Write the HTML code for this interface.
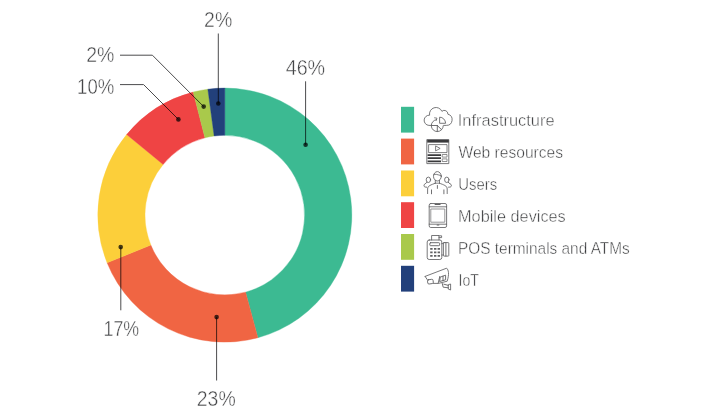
<!DOCTYPE html>
<html><head><meta charset="utf-8"><title>Chart</title>
<style>
html,body{margin:0;padding:0;background:#fff;}
svg{display:block}
text{font-family:"Liberation Sans",sans-serif;stroke:#fff;stroke-width:0.45px;}
.pct{font-size:22.2px;fill:#444547;}
.lg{font-size:16.3px;fill:#38393b;}
.ld{fill:none;stroke:#4c4c4e;stroke-width:1;mix-blend-mode:multiply}
.dot{fill:#454547;mix-blend-mode:multiply}
.ic{fill:none;stroke:#606062;stroke-width:0.85;stroke-linecap:round;stroke-linejoin:round}
</style></head><body>
<svg width="712" height="414" viewBox="0 0 712 414">
<rect width="712" height="414" fill="#fff"/>
<path d="M224.80 88.10A127.0 127.0 0 0 1 257.88 337.72L245.59 292.15A79.8 79.8 0 0 0 224.80 135.30Z" fill="#3cba92" stroke="#3cba92" stroke-width="0.4"/>
<path d="M257.88 337.72A127.0 127.0 0 0 1 107.09 262.78L150.84 245.06A79.8 79.8 0 0 0 245.59 292.15Z" fill="#f06543" stroke="#f06543" stroke-width="0.4"/>
<path d="M107.09 262.78A127.0 127.0 0 0 1 126.66 134.49L163.13 164.45A79.8 79.8 0 0 0 150.84 245.06Z" fill="#fccf3a" stroke="#fccf3a" stroke-width="0.4"/>
<path d="M126.66 134.49A127.0 127.0 0 0 1 193.22 92.09L204.95 137.81A79.8 79.8 0 0 0 163.13 164.45Z" fill="#ef4444" stroke="#ef4444" stroke-width="0.4"/>
<path d="M193.22 92.09A127.0 127.0 0 0 1 207.85 89.24L214.15 136.01A79.8 79.8 0 0 0 204.95 137.81Z" fill="#a9c94b" stroke="#a9c94b" stroke-width="0.4"/>
<path d="M207.85 89.24A127.0 127.0 0 0 1 224.80 88.10L224.80 135.30A79.8 79.8 0 0 0 214.15 136.01Z" fill="#22407b" stroke="#22407b" stroke-width="0.4"/>
<g class="ld">
<path d="M218.3 33.5V103.5"/>
<path d="M305.6 81.3V144.8"/>
<path d="M120 55.2H152.4L203.7 106.6"/>
<path d="M120 84.6H143.6L178.4 119.4"/>
<path d="M120.8 247.1V310.3"/>
<path d="M216.6 317.1V380.5"/>
</g>
<g class="dot">
<circle cx="218.3" cy="103.5" r="2.3"/>
<circle cx="305.6" cy="144.8" r="2.3"/>
<circle cx="203.7" cy="106.6" r="2.3"/>
<circle cx="178.4" cy="119.4" r="2.3"/>
<circle cx="120.7" cy="247.1" r="2.3"/>
<circle cx="216.6" cy="317.1" r="2.3"/>
</g>
<g>
<rect x="401" y="106.8" width="13.1" height="25.8" fill="#3cba92"/>
<rect x="401" y="138.6" width="13.1" height="25.8" fill="#f06543"/>
<rect x="401" y="170.5" width="13.1" height="25.8" fill="#fccf3a"/>
<rect x="401" y="202.2" width="13.1" height="25.8" fill="#ef4444"/>
<rect x="401" y="234.0" width="13.1" height="25.8" fill="#a9c94b"/>
<rect x="401" y="265.8" width="13.1" height="25.8" fill="#22407b"/>
</g>
<g class="ic">
<!-- cloud / infrastructure -->
<path d="M431.8 125.4H428.9A5.11 5.11 0 0 1 429.6 115.2A6.5 6.5 0 0 1 441.9 111.3A3.6 3.6 0 0 1 447.9 114.2A5.7 5.7 0 0 1 446.4 125.4H443.8"/>
<path d="M436.6 119.6A6 6 0 1 0 443.3 125.8"/>
<path d="M434.6 117.8L437 118.2L436.2 120.4" stroke-width="0.8"/>
<path d="M437.3 125.5V131.5M437.3 125.5L441.5 129.6M437.3 125.5H431.6" stroke-width="0.9"/>
<path d="M439.6 122.9V117.2A5.9 5.9 0 0 1 445.6 122.9Z"/>
<!-- web resources -->
<rect x="427.2" y="139.6" width="21.6" height="24"/>
<rect x="427.2" y="139.8" width="21.6" height="2.8" fill="#3a3a3c" stroke="none"/>
<rect x="429" y="144.6" width="18" height="8" stroke-width="0.8"/>
<path d="M435.6 146.3V150.9L439.8 148.6Z" stroke-width="0.8"/>
<path d="M427.6 155.1H441M427.6 158.2H441M427.6 161.3H441" stroke="#3a3a3c" stroke-width="1.8" stroke-linecap="butt"/>
<rect x="442.6" y="154.5" width="4.4" height="2.6" stroke-width="0.7"/>
<rect x="442.6" y="158.9" width="4.4" height="2.6" stroke-width="0.7"/>
<!-- users -->
<ellipse cx="437.4" cy="176.3" rx="3.9" ry="4.7"/>
<path d="M433.7 174.6C435.5 173.6 437.5 174.8 441.2 175.6" stroke-width="0.8"/>
<path d="M435.3 180.2V183.2M439.5 180.2V183.2M435.3 183.2H439.5" stroke-width="0.8"/>
<path d="M427.6 193.6V189C427.6 185.6 431 185 435.3 183.2M447.2 193.6V189C447.2 185.6 443.8 185 439.5 183.2"/>
<path d="M431.5 189.9V193.8M443.9 189.9V193.8M437.4 185.5V188.4" stroke-width="0.9"/>
<ellipse cx="428.4" cy="179.8" rx="2.2" ry="2.7"/>
<ellipse cx="446.8" cy="179.8" rx="2.2" ry="2.7"/>
<path d="M427 182.3C426 184 424 183.6 424 185.6C424 186.8 425 187.2 426.6 187.2M448.2 182.3C449.2 184 451.4 183.6 451.4 185.6C451.4 186.8 450.4 187.2 448.6 187.2" stroke-width="0.9"/>
<!-- mobile -->
<rect x="429.2" y="203.5" width="17.4" height="24" rx="1.6"/>
<path d="M429.2 206.8H446.6M429.2 224.2H446.6"/>
<rect x="431.2" y="209" width="13.6" height="13.2" stroke="#8a8a8c" stroke-width="0.9"/>
<path d="M435.2 204.4H440" stroke-width="1.2"/>
<path d="M437.2 225H438.8" stroke-width="1.2"/>
<!-- POS -->
<rect x="427.2" y="240" width="14.6" height="19.5" rx="2"/>
<path d="M431.6 240V235.5H439V240M439 235.8H441.6V237.6H439"/>
<rect x="429.8" y="242.7" width="9.8" height="3" rx="0.8" stroke-width="0.9"/>
<path d="M430.2 248.8H432.6M434 248.8H436.4M437.6 248.8H440M430.2 252.3H432.6M434 252.3H436.4M437.6 252.3H440M430.2 255.8H432.6M434 255.8H436.4M437.6 255.8H440" stroke-width="1.7" stroke-linecap="butt"/>
<path d="M441.8 243.6H443.4M441.8 255H443.4" stroke-width="0.8"/>
<rect x="443.4" y="242.6" width="5.4" height="13.5" rx="0.6"/>
<path d="M445.9 242.6V256.1" stroke-width="0.9"/>
<!-- camera -->
<path d="M425.1 276.4L446.6 268.2C448.6 269.8 449.4 274 447.2 281.2L438.4 283.4H433.4"/>
<path d="M425.1 276.4L427.4 279.8"/>
<rect x="427.6" y="279.5" width="5.6" height="4.3" rx="1.2" transform="rotate(-8 430.4 281.6)"/>
<path d="M439.8 276.4L438.2 283.2" stroke-width="0.9"/>
<path d="M440.6 277L445.6 275.2V279.8L440 281.4ZM443 276.1V280.5" stroke-width="0.9"/>
<path d="M442.2 283.4L443.2 287.2L448.4 287.8M443.8 284.2L448.4 285.4" stroke-width="0.9"/>
<path d="M448.6 284.6L450.6 284V290L448.6 289.2Z"/>
</g>


<g>
<text class="pct" x="204.10" y="27.05" textLength="28.15" lengthAdjust="spacingAndGlyphs">2%</text>
<text class="pct" x="285.70" y="75.35" textLength="39.47" lengthAdjust="spacingAndGlyphs">46%</text>
<text class="pct" x="86.20" y="62.25" textLength="28.15" lengthAdjust="spacingAndGlyphs">2%</text>
<text class="pct" x="77.10" y="93.75" textLength="37.17" lengthAdjust="spacingAndGlyphs">10%</text>
<text class="pct" x="103.50" y="335.85" textLength="35.57" lengthAdjust="spacingAndGlyphs">17%</text>
<text class="pct" x="196.80" y="406.05" textLength="38.91" lengthAdjust="spacingAndGlyphs">23%</text>
<text class="lg" x="457.80" y="125.90" textLength="96.80" lengthAdjust="spacingAndGlyphs">Infrastructure</text>
<text class="lg" x="458.45" y="157.85" textLength="104.66" lengthAdjust="spacingAndGlyphs">Web resources</text>
<text class="lg" x="458.30" y="189.80" textLength="38.90" lengthAdjust="spacingAndGlyphs">Users</text>
<text class="lg" x="458.05" y="221.75" textLength="107.69" lengthAdjust="spacingAndGlyphs">Mobile devices</text>
<text class="lg" x="458.05" y="253.70" textLength="171.67" lengthAdjust="spacingAndGlyphs">POS terminals and ATMs</text>
<text class="lg" x="458.50" y="285.65" textLength="20.29" lengthAdjust="spacingAndGlyphs">IoT</text>
</g>
</svg>
</body></html>
